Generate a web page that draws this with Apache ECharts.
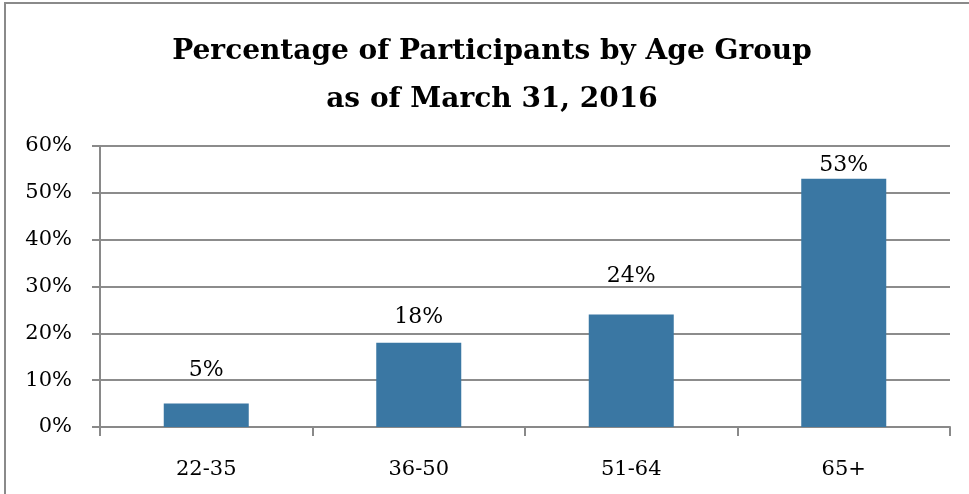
<!DOCTYPE html>
<html>
<head>
<meta charset="utf-8">
<script src="https://cdn.jsdelivr.net/npm/echarts@6/dist/echarts.min.js"></script>
<style>
  html, body { margin: 0; padding: 0; background: #fff; overflow: hidden; }
  #frame { position: absolute; left: 4px; top: 2px; width: 1000px; height: 600px; border: 2px solid #8a8a8a; }
  #chart { position: absolute; left: 0; top: 0; width: 969px; height: 494px; }
</style>
</head>
<body>
<div id="frame"></div>
<div id="chart"></div>
<script>
// data
var ageGroups = ['22-35', '36-50', '51-64', '65+'];
var participantPct = [5, 18, 24, 53];
var yTicks = [0, 10, 20, 30, 40, 50, 60];

// label gap above each bar (the source places them unevenly)
var labelGaps = [22, 14, 27, 3];

var serif = '"DejaVu Serif", "Liberation Serif", serif';

var chart = echarts.init(document.getElementById('chart'));

var barData = participantPct.map(function (v, i) {
  return {
    value: v,
    label: { distance: labelGaps[i] }
  };
});

var option = {
  backgroundColor: 'transparent',
  animation: false,
  title: {
    text: 'Percentage of Participants by Age Group\nas of March 31, 2016',
    left: 492,
    textAlign: 'center',
    top: 28,
    padding: 0,
    textStyle: {
      fontFamily: serif,
      fontWeight: 'bold',
      fontSize: 28,
      lineHeight: 48,
      color: '#000'
    }
  },
  grid: {
    left: 100,
    right: 19,
    top: 146,
    bottom: 67,
    containLabel: false
  },
  xAxis: {
    type: 'category',
    data: ageGroups,
    axisLine: { show: true, lineStyle: { color: '#898989', width: 2 } },
    axisTick: { show: true, length: 9, lineStyle: { color: '#898989', width: 2 } },
    axisLabel: {
      margin: 32,
      fontFamily: serif,
      fontSize: 21,
      color: '#000'
    }
  },
  yAxis: {
    type: 'value',
    min: yTicks[0],
    max: yTicks[yTicks.length - 1],
    interval: 10,
    axisLine: { show: true, lineStyle: { color: '#898989', width: 2 } },
    axisTick: { show: true, length: 8, lineStyle: { color: '#898989', width: 2 } },
    splitLine: { show: true, lineStyle: { color: '#8c8c8c', width: 2 } },
    axisLabel: {
      margin: 28,
      fontFamily: serif,
      fontSize: 21,
      color: '#000',
      formatter: '{value}%'
    }
  },
  series: [{
    type: 'bar',
    data: barData,
    barWidth: '40%',
    itemStyle: { color: '#3a77a3' },
    label: {
      show: true,
      position: 'top',
      fontFamily: serif,
      fontSize: 22,
      color: '#000',
      formatter: '{c}%'
    }
  }]
};

chart.setOption(option);
</script>
</body>
</html>
